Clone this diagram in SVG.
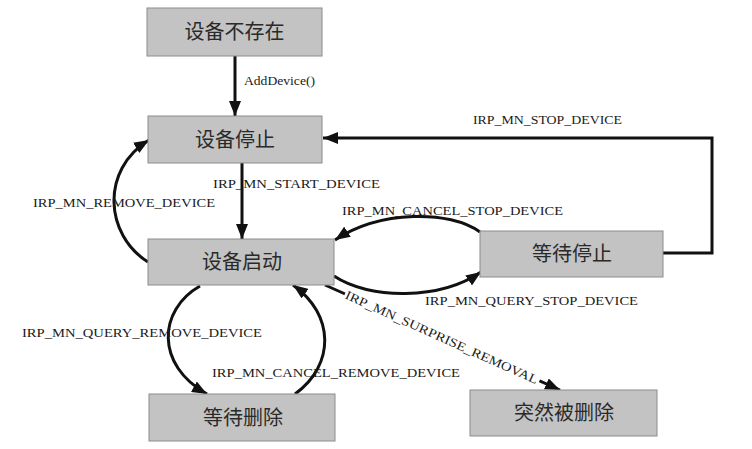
<svg xmlns="http://www.w3.org/2000/svg" width="752" height="449" viewBox="0 0 752 449">
<defs>
<marker id="arr" markerUnits="userSpaceOnUse" markerWidth="16" markerHeight="12" refX="15" refY="6" orient="auto">
<path d="M0,0 L15,6 L0,12 z" fill="#111"/>
</marker>
<style>
.node rect{fill:#c3c3c3;stroke:#8c8c8c;stroke-width:1}
.node text{font-family:"Noto Sans CJK SC","Noto Sans",sans-serif;font-size:20px;fill:#2a2a2a;text-anchor:middle}
.edge{fill:none;stroke:#111;stroke-width:3;marker-end:url(#arr)}
.lbl{font-family:"Liberation Serif","Times New Roman",serif;font-size:12.5px;fill:#1a1a1a}
</style>
</defs>
<rect width="752" height="449" fill="#fff"/>
<g id="connectors">
<path class="edge" d="M235,56 L235,116"/>
<path class="edge" d="M242,163 L242,239"/>
<path class="edge" d="M663,253 L712,253 L712,138 L323,138"/>
<path class="edge" d="M148,262 C105,235 100,170 149,140"/>
<path class="edge" d="M480,232 C450,210 380,210 335,240"/>
<path class="edge" d="M334,276 C370,300 440,300 481,272"/>
<path class="edge" d="M325,285 L560,390"/>
<path class="edge" d="M200,286 C158,310 155,365 207,394"/>
<path class="edge" d="M295,394 C335,365 335,315 293,285"/>
<text class="lbl" x="244" y="85" textLength="71" lengthAdjust="spacingAndGlyphs">AddDevice()</text>
<text class="lbl" x="473" y="124" textLength="149" lengthAdjust="spacingAndGlyphs">IRP_MN_STOP_DEVICE</text>
<text class="lbl" x="213" y="188" textLength="167" lengthAdjust="spacingAndGlyphs">IRP_MN_START_DEVICE</text>
<text class="lbl" x="33" y="207" textLength="182" lengthAdjust="spacingAndGlyphs">IRP_MN_REMOVE_DEVICE</text>
<text class="lbl" x="342" y="215" textLength="221" lengthAdjust="spacingAndGlyphs">IRP_MN_CANCEL_STOP_DEVICE</text>
<text class="lbl" x="425" y="305" textLength="213" lengthAdjust="spacingAndGlyphs">IRP_MN_QUERY_STOP_DEVICE</text>
<text class="lbl" x="22" y="337" textLength="240" lengthAdjust="spacingAndGlyphs">IRP_MN_QUERY_REMOVE_DEVICE</text>
<text class="lbl" x="212" y="377" textLength="248" lengthAdjust="spacingAndGlyphs">IRP_MN_CANCEL_REMOVE_DEVICE</text>
<g transform="translate(346,294) rotate(24.2)">
<rect x="-1" y="-6" width="213" height="12" fill="#fff"/>
<text class="lbl" x="0" y="4.5" textLength="210" lengthAdjust="spacingAndGlyphs">IRP_MN_SURPRISE_REMOVAL</text>
</g>
</g>
<g id="n1" class="node"><rect x="147" y="8" width="175" height="48"/><text x="234.5" y="39">设备不存在</text></g>
<g id="n2" class="node"><rect x="148" y="116" width="174" height="47"/><text x="235" y="146.5">设备停止</text></g>
<g id="n3" class="node"><rect x="148" y="239" width="186" height="46"/><text x="242" y="269">设备启动</text></g>
<g id="n4" class="node"><rect x="480" y="231" width="183" height="46"/><text x="572" y="261">等待停止</text></g>
<g id="n5" class="node"><rect x="470" y="390" width="187" height="46"/><text x="564" y="420">突然被删除</text></g>
<g id="n6" class="node"><rect x="149" y="394" width="186" height="47"/><text x="243" y="424.5">等待删除</text></g>
</svg>
